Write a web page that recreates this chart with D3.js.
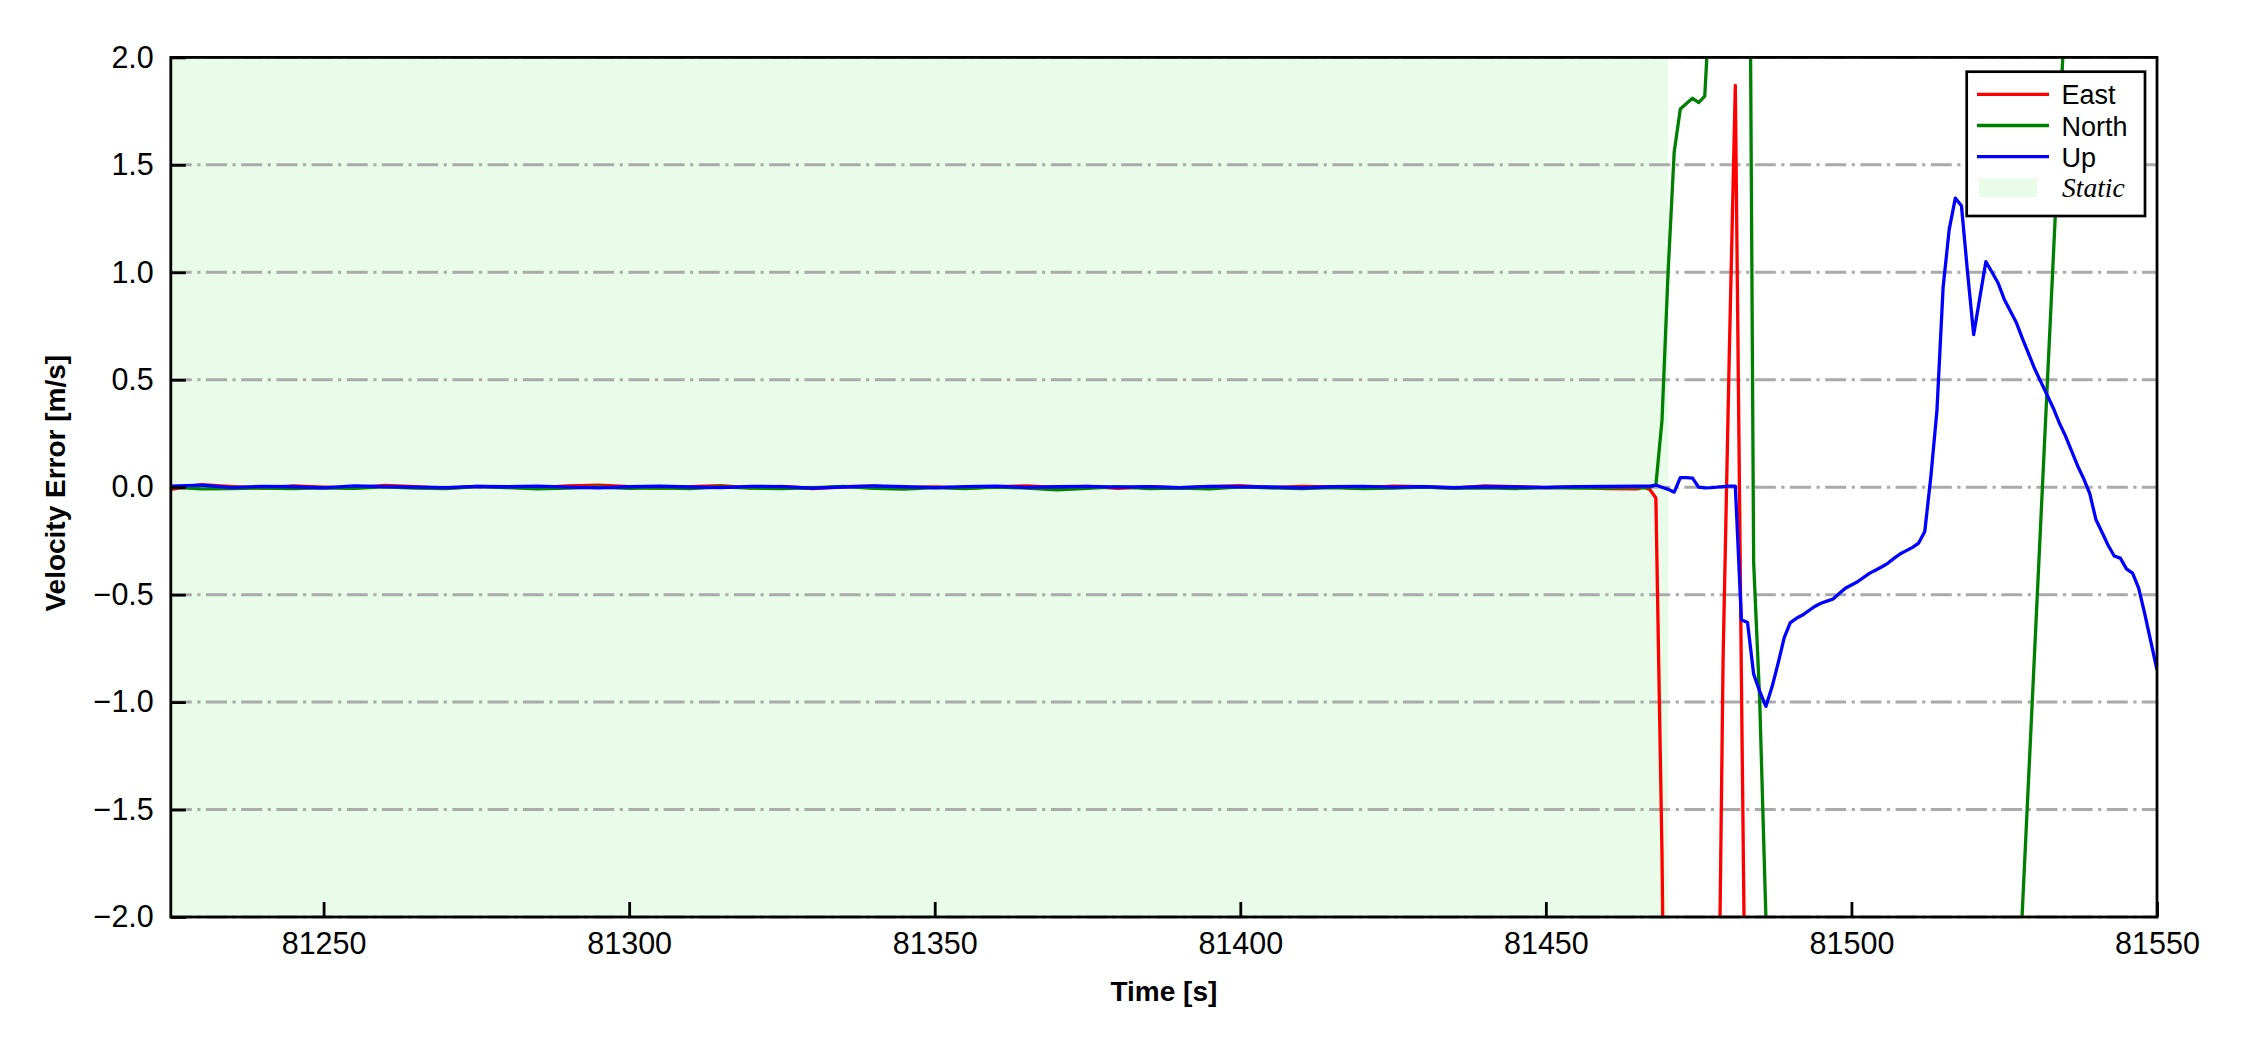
<!DOCTYPE html>
<html>
<head>
<meta charset="utf-8">
<script src="https://cdn.jsdelivr.net/npm/d3@7"></script>
<style>
  html, body { margin: 0; padding: 0; background: #ffffff; }
  svg { display: block; }
</style>
</head>
<body>
<svg id="chart" width="2250" height="1050"></svg>
<script>
// ---------------- DATA ----------------
const seriesNames = ["East", "North", "Up"];
const seriesColors = ["#ff0000", "#008000", "#0000ff"];
const staticLabel = "Static";
const staticStart = 81225;
const staticEnd = 81470;

const xTicks = [81250, 81300, 81350, 81400, 81450, 81500, 81550];
const yTicks = [-2.0, -1.5, -1.0, -0.5, 0.0, 0.5, 1.0, 1.5, 2.0];
const xDomain = [81225, 81550];
const yDomain = [-2.0, 2.0];

const times = [
  81225, 81230, 81235, 81240, 81245, 81250, 81255, 81260, 81265, 81270,
  81275, 81280, 81285, 81290, 81295, 81300, 81305, 81310, 81315, 81320,
  81325, 81330, 81335, 81340, 81345, 81350, 81355, 81360, 81365, 81370,
  81375, 81380, 81385, 81390, 81395, 81400, 81405, 81410, 81415, 81420,
  81425, 81430, 81435, 81440, 81445, 81450, 81455, 81460, 81465,
  81466, 81467, 81468, 81469, 81470, 81471, 81472, 81473, 81474, 81475,
  81476, 81477, 81478, 81479, 81480, 81481, 81482, 81483, 81484, 81485,
  81486, 81487, 81488, 81489, 81490, 81491, 81492, 81493, 81494, 81495,
  81496, 81497, 81498, 81499, 81500, 81501, 81502, 81503, 81504, 81505,
  81506, 81507, 81508, 81509, 81510, 81511, 81512, 81513, 81514, 81515,
  81516, 81517, 81518, 81519, 81520, 81521, 81522, 81523, 81524, 81525,
  81526, 81527, 81528, 81529, 81530, 81531, 81532, 81533, 81534, 81535,
  81536, 81537, 81538, 81539, 81540, 81541, 81542, 81543, 81544, 81545,
  81546, 81547, 81548, 81549, 81550
];

const east = [
  -0.010, 0.012, 0.003, -0.004, 0.006, 0.000, -0.003, 0.008, 0.002, -0.005,
  0.004, 0.001, -0.002, 0.006, 0.010, 0.003, -0.004, 0.002, 0.007, -0.003,
  0.004, -0.006, 0.002, 0.005, -0.002, 0.001, -0.004, 0.003, 0.006, -0.001,
  0.004, -0.005, 0.002, -0.003, 0.003, 0.007, -0.002, 0.004, 0.001, -0.003,
  0.005, 0.002, -0.004, 0.006, 0.003, -0.002, 0.001, -0.006, -0.008,
  0.0, -0.01, -0.05, -1.7, -4.2, -5.5, -6.3, -6.8, -7.0, -6.8,
  -6.2, -5.1, -3.2, -0.8, 0.6, 1.87, -0.9, -3.5, -5.4, -6.9,
  -7.8, -8.4, -8.9, -9.2, -9.4, -9.5, -9.5, -9.4, -9.3, -9.1,
  -8.9, -8.7, -8.5, -8.3, -8.1, -7.9, -7.7, -7.5, -7.3, -7.1,
  -6.9, -6.8, -6.6, -6.5, -6.3, -6.2, -6.1, -6.3, -6.8, -7.2,
  -7.5, -7.6, -7.4, -7.1, -6.9, -6.8, -6.6, -6.4, -6.2, -6.0,
  -5.8, -5.6, -5.4, -5.2, -5.0, -4.8, -4.6, -4.4, -4.2, -4.0,
  -3.9, -3.8, -3.7, -3.6, -3.5, -3.4, -3.4, -3.3, -3.3, -3.2,
  -3.2, -3.1, -3.1, -3.0, -3.0
];

const north = [
  0.000, -0.008, -0.006, -0.004, -0.007, -0.003, -0.005, 0.002, -0.004, -0.006,
  0.003, -0.002, -0.008, -0.004, 0.001, -0.005, -0.003, -0.006, 0.002, -0.004,
  -0.007, -0.003, 0.004, -0.005, -0.009, -0.002, -0.006, 0.001, -0.004, -0.012,
  -0.005, 0.003, -0.006, -0.004, -0.008, 0.002, -0.003, -0.006, -0.002, -0.007,
  -0.004, 0.001, -0.005, -0.003, -0.006, -0.002, -0.004, -0.003, 0.000,
  -0.003, 0.0, 0.01, 0.31, 1.0, 1.56, 1.76, 1.785, 1.81, 1.79,
  1.82, 2.35, 3.3, 4.1, 4.6, 4.8, 4.6, 4.35, -0.35, -1.0,
  -2.0, -3.1, -4.0, -4.7, -5.2, -5.6, -5.8, -5.9, -5.9, -5.8,
  -5.7, -5.6, -5.4, -5.2, -5.0, -4.8, -4.6, -4.5, -4.4, -4.3,
  -4.2, -4.1, -4.0, -3.9, -3.9, -3.8, -3.8, -3.9, -4.1, -4.2,
  -4.2, -4.1, -4.0, -3.9, -3.8, -3.7, -3.5, -3.4, -3.2, -3.0,
  -2.8, -2.6, -1.95, -1.35, -0.75, -0.15, 0.45, 1.05, 1.65, 2.25,
  2.85, 3.4, 3.9, 4.3, 4.7, 5.0, 5.2, 5.4, 5.5, 5.6,
  5.7, 5.7, 5.8, 5.8, 5.9
];

const up = [
  0.005, 0.010, -0.002, 0.004, 0.002, -0.003, 0.006, 0.003, 0.000, -0.002,
  0.004, 0.002, 0.005, 0.000, -0.003, 0.002, 0.005, 0.001, -0.002, 0.004,
  0.003, -0.004, 0.001, 0.006, 0.002, -0.002, 0.003, 0.005, -0.001, 0.002,
  0.004, 0.000, 0.003, -0.002, 0.004, 0.002, 0.001, -0.003, 0.002, 0.004,
  0.000, 0.003, -0.002, 0.002, 0.001, -0.001, 0.003, 0.004, 0.005,
  0.005, 0.005, 0.01, 0.0, -0.01, -0.023, 0.045, 0.045, 0.042, 0.0,
  -0.003, -0.002, 0.0, 0.003, 0.005, 0.005, -0.617, -0.63, -0.87, -0.95,
  -1.02, -0.93, -0.82, -0.70, -0.63, -0.61, -0.595, -0.575, -0.555, -0.54,
  -0.53, -0.52, -0.495, -0.47, -0.455, -0.44, -0.42, -0.40, -0.385, -0.37,
  -0.353, -0.33, -0.31, -0.295, -0.28, -0.26, -0.206, 0.05, 0.36, 0.93,
  1.2, 1.345, 1.31, 1.0, 0.71, 0.88, 1.05, 1.0, 0.95, 0.875,
  0.82, 0.765, 0.69, 0.62, 0.55, 0.49, 0.43, 0.37, 0.30, 0.24,
  0.17, 0.10, 0.04, -0.03, -0.15, -0.21, -0.27, -0.32, -0.33, -0.38,
  -0.40, -0.47, -0.59, -0.72, -0.85
];

// ---------------- LAYOUT ----------------
const svg = d3.select("#chart");
const M = { left: 170.8, right: 2157, top: 57.4, bottom: 917 };
const sansFont = "'Liberation Sans', Arial, Helvetica, sans-serif";
const serifFont = "'Liberation Serif', 'Times New Roman', serif";

const x = d3.scaleLinear().domain(xDomain).range([M.left, M.right]);
const y = d3.scaleLinear().domain(yDomain).range([M.bottom, M.top]);

svg.append("rect").attr("x", 0).attr("y", 0).attr("width", 2250).attr("height", 1050).attr("fill", "#ffffff");

svg.append("defs").append("clipPath").attr("id", "plotclip")
  .append("rect")
  .attr("x", M.left).attr("y", M.top)
  .attr("width", M.right - M.left).attr("height", M.bottom - M.top);

// static shading
svg.append("rect")
  .attr("x", x(staticStart)).attr("y", M.top)
  .attr("width", x(staticEnd) - x(staticStart))
  .attr("height", M.bottom - M.top)
  .attr("fill", "#e9fce9");

// grid lines (horizontal, dash-dot)
svg.append("g").selectAll("line")
  .data(yTicks)
  .join("line")
  .attr("x1", M.left).attr("x2", M.right)
  .attr("y1", d => y(d)).attr("y2", d => y(d))
  .attr("stroke", "#aaaaaa")
  .attr("stroke-width", 3)
  .attr("stroke-dasharray", "21,5.5,3.2,5.5");

// data lines
const seriesData = [east, north, up];
const line = d3.line()
  .x((d, i) => x(times[i]))
  .y(d => y(d));

const linesG = svg.append("g").attr("clip-path", "url(#plotclip)");
seriesData.forEach((vals, k) => {
  linesG.append("path")
    .datum(vals)
    .attr("d", line)
    .attr("fill", "none")
    .attr("stroke", seriesColors[k])
    .attr("stroke-width", 3.3)
    .attr("stroke-linejoin", "round");
});

// axes (inward ticks)
const xAxis = d3.axisBottom(x)
  .tickValues(xTicks)
  .tickFormat(d3.format("d"))
  .tickSizeInner(-15).tickSizeOuter(0).tickPadding(15);
const gx = svg.append("g").attr("transform", `translate(0,${M.bottom})`).call(xAxis);
gx.select(".domain").remove();
gx.selectAll(".tick line").attr("stroke", "#000").attr("stroke-width", 2.8);
gx.selectAll(".tick text").attr("font-family", sansFont).attr("font-size", 30.5).attr("fill", "#000");

const yAxis = d3.axisLeft(y)
  .tickValues(yTicks)
  .tickFormat(d3.format(".1f"))
  .tickSizeInner(-15).tickSizeOuter(0).tickPadding(17);
const gy = svg.append("g").attr("transform", `translate(${M.left},0)`).call(yAxis);
gy.select(".domain").remove();
gy.selectAll(".tick line").attr("stroke", "#000").attr("stroke-width", 2.8);
gy.selectAll(".tick text").attr("font-family", sansFont).attr("font-size", 30.5).attr("fill", "#000");

// frame
svg.append("rect")
  .attr("x", M.left).attr("y", M.top)
  .attr("width", M.right - M.left).attr("height", M.bottom - M.top)
  .attr("fill", "none").attr("stroke", "#000").attr("stroke-width", 2.8);

// axis titles
svg.append("text")
  .attr("x", (M.left + M.right) / 2).attr("y", 1001)
  .attr("text-anchor", "middle")
  .attr("font-family", sansFont).attr("font-weight", "bold").attr("font-size", 28)
  .text("Time [s]");

svg.append("text")
  .attr("transform", `translate(55,${(M.top + M.bottom) / 2 - 4}) rotate(-90)`)
  .attr("text-anchor", "middle")
  .attr("dy", "0.35em")
  .attr("font-family", sansFont).attr("font-weight", "bold").attr("font-size", 28)
  .text("Velocity Error [m/s]");

// legend
const lg = svg.append("g");
lg.append("rect")
  .attr("x", 1966.7).attr("y", 71.7).attr("width", 178.3).attr("height", 144.3)
  .attr("fill", "#ffffff").attr("stroke", "#000").attr("stroke-width", 2.7);
const legendRowsY = [94.3, 125.5, 156.7];
seriesNames.forEach((name, k) => {
  lg.append("line")
    .attr("x1", 1977).attr("x2", 2049)
    .attr("y1", legendRowsY[k]).attr("y2", legendRowsY[k])
    .attr("stroke", seriesColors[k]).attr("stroke-width", 3.3);
  lg.append("text")
    .attr("x", 2061.5).attr("y", legendRowsY[k] + 10)
    .attr("font-family", sansFont).attr("font-size", 27).attr("fill", "#000")
    .text(name);
});
lg.append("rect")
  .attr("x", 1979).attr("y", 178.3).attr("width", 58).attr("height", 19)
  .attr("fill", "#e9fce9");
lg.append("text")
  .attr("x", 2062).attr("y", 196.5)
  .attr("font-family", serifFont).attr("font-style", "italic").attr("font-size", 27.5).attr("fill", "#000")
  .text(staticLabel);
</script>
</body>
</html>
